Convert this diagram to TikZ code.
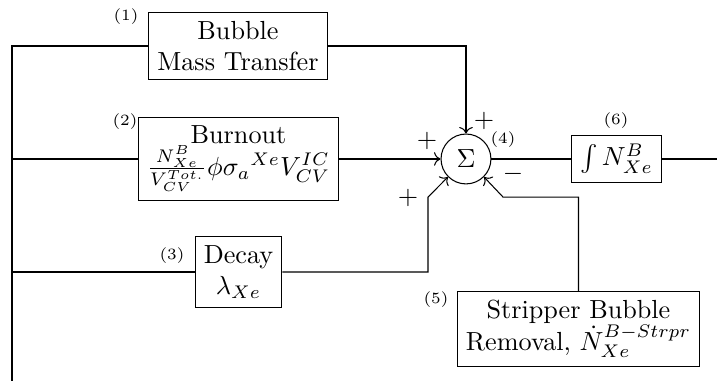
\documentclass[tikz,border=0pt]{standalone}
\usepackage{amsmath,amssymb}
\usepackage{tikz}
\usetikzlibrary{arrows.meta, positioning, calc}

\begin{document}
\begin{tikzpicture}[
  blk/.style={rectangle, draw=black, align=center},
  sumnode/.style={circle, draw=black, minimum size=0.67cm, inner sep=0pt},
  num/.style={font=\fontsize{6}{7}\selectfont},
  sgn/.style={inner sep=0pt},
  arr/.style={->}
]
  \useasboundingbox (0,0) rectangle (9.629,-5.117);
  % blocks
  \node[blk] (bmt)   at (3.196,-0.618) {Bubble\\Mass Transfer};
  \node[blk] (burn)  at (3.203,-2.135) {Burnout\\$\frac{N^B_{Xe}}{V^{Tot.}_{CV}}\phi{\sigma_a}^{Xe}V^{IC}_{CV}$};
  \node[blk] (dec)   at (3.203,-3.653) {Decay\\$\lambda_{Xe}$};
  \node[sumnode] (sum) at (6.258,-2.135) {$\Sigma$};
  \node[blk] (integ) at (8.279,-2.135) {$\int N^B_{Xe}$};
  \node[blk] (strip) at (7.769,-4.418) {Stripper Bubble\\Removal, $\dot{N}^{B-Strpr}_{Xe}$};
  % numbers
  \node[num] (n1) at (1.692,-0.228) {(1)};
  \node[num] (n2) at (1.679,-1.638) {(2)};
  \node[num] (n3) at (2.310,-3.438) {(3)};
  \node[num] (n4) at (6.755,-1.880) {(4)};
  \node[num] (n5) at (5.855,-4.029) {(5)};
  \node[num] (n6) at (8.273,-1.625) {(6)};
  % signs
  \node[sgn] (p1) at (5.735,-1.894) {$+$};
  \node[sgn] (p2) at (6.500,-1.625) {$+$};
  \node[sgn] (p3) at (5.479,-2.659) {$+$};
  \node[sgn] (m5) at (6.890,-2.337) {$-$};
  % free ends and bends
  \coordinate (busBot) at (0.161,-5.117);
  \coordinate (out)    at (9.629,-2.135);
  \coordinate (kd)     at (5.748,-2.646);
  \coordinate (ks)     at (6.755,-2.646);
  % feed lines
  \draw (bmt.west) -| (busBot);
  \draw (burn.west) -- (burn.west -| busBot);
  \draw (dec.west) -- (dec.west -| busBot);
  % into the sum
  \draw[arr] (bmt.east) -| (sum.north);
  \draw[arr] (burn.east) -- (sum.west);
  \draw[arr] (dec.east) -| (kd) -- (sum.south west);
  \draw[arr] (strip.north) |- (ks) -- (sum.south east);
  \draw (sum.east) -- (integ.west);
  \draw (integ.east) -- (out);
\end{tikzpicture}
\end{document}
